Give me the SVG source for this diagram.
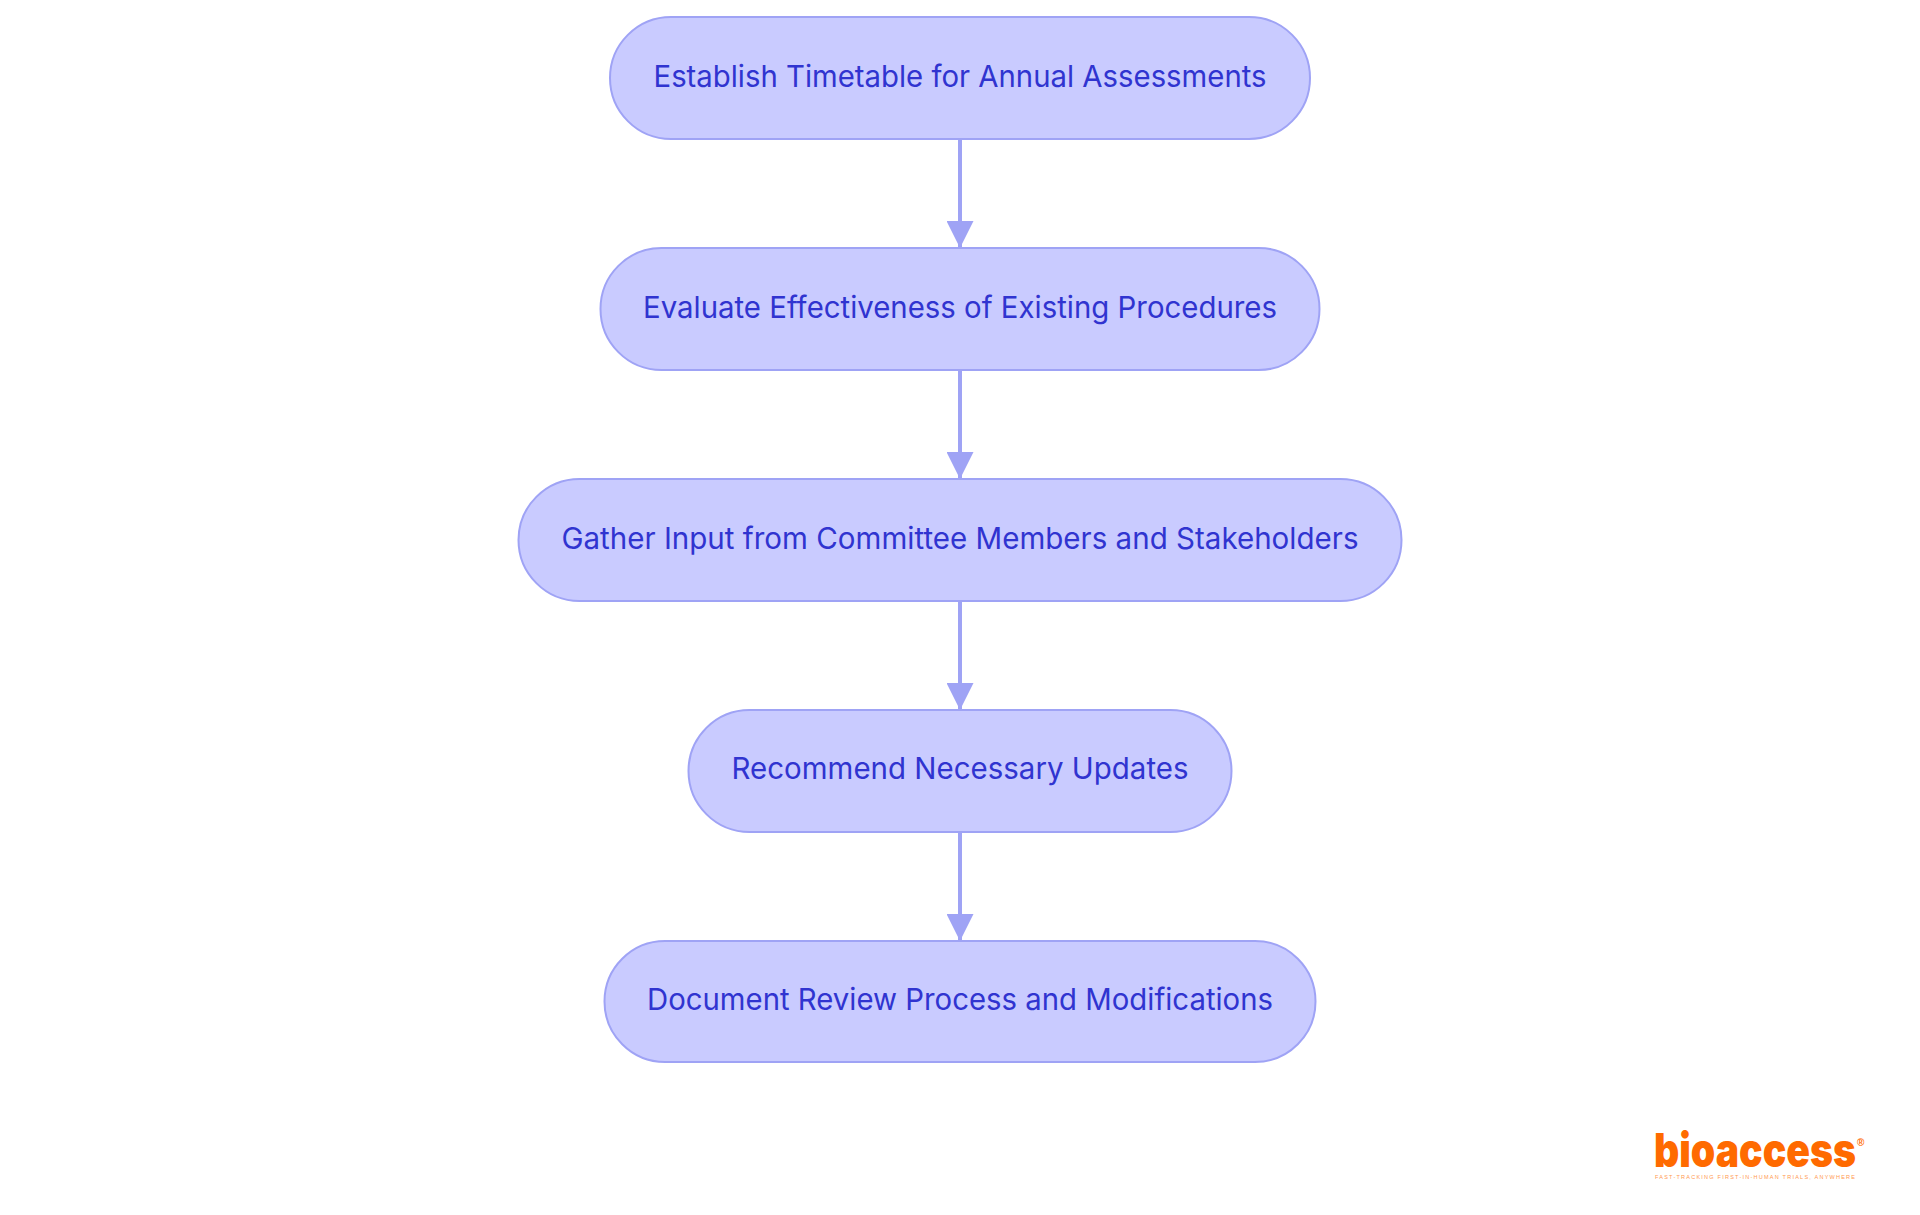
<svg xmlns="http://www.w3.org/2000/svg" width="1920" height="1215" viewBox="0 0 1920 1215">
<style>
.n{fill:#c9cbff;stroke:#9fa3f5;stroke-width:2}
.t{font-family:Inter,"Noto Sans",sans-serif;font-size:30px;font-weight:400;fill:#3034d0;text-anchor:middle}
.c{fill:none;stroke:#9fa3f5;stroke-width:4}
.l1{font-family:Inter,"Liberation Sans",sans-serif;font-weight:900;font-size:47px;fill:#ff6a00}
.l2{font-family:"Liberation Sans",sans-serif;font-size:5.500px;fill:#ff9a50}
.l3{font-family:"Liberation Sans",sans-serif;font-weight:700;font-size:10px;fill:#ff6a00}
</style>
<defs><marker id="a" markerUnits="userSpaceOnUse" markerWidth="27" markerHeight="27" refX="27" refY="13.500" orient="auto"><path d="M0 0L27 13.500L0 27Z" fill="#9fa3f5"/></marker></defs>
<rect width="1920" height="1215" fill="#fff"/>
<g id="connectors">
<path class="c" d="M960 139V248" marker-end="url(#a)"/>
<path class="c" d="M960 370V479" marker-end="url(#a)"/>
<path class="c" d="M960 601V710" marker-end="url(#a)"/>
<path class="c" d="M960 832V941" marker-end="url(#a)"/>
</g>
<g id="node1"><rect class="n" x="610" y="17" width="700" height="122" rx="61"/><text class="t" x="960" y="87" textLength="613" lengthAdjust="spacingAndGlyphs">Establish Timetable for Annual Assessments</text></g>
<g id="node2"><rect class="n" x="600.500" y="248" width="719" height="122" rx="61"/><text class="t" x="960" y="318" textLength="634" lengthAdjust="spacingAndGlyphs">Evaluate Effectiveness of Existing Procedures</text></g>
<g id="node3"><rect class="n" x="518.500" y="479" width="883" height="122" rx="61"/><text class="t" x="960" y="549" textLength="797" lengthAdjust="spacingAndGlyphs">Gather Input from Committee Members and Stakeholders</text></g>
<g id="node4"><rect class="n" x="688.500" y="710" width="543" height="122" rx="61"/><text class="t" x="960" y="779" textLength="457" lengthAdjust="spacingAndGlyphs">Recommend Necessary Updates</text></g>
<g id="node5"><rect class="n" x="604.500" y="941" width="711" height="121" rx="60.500"/><text class="t" x="960" y="1010" textLength="626" lengthAdjust="spacingAndGlyphs">Document Review Process and Modifications</text></g>
<g id="logo">
<text class="l1" x="1654" y="1167" textLength="202" lengthAdjust="spacingAndGlyphs">bioaccess</text>
<text class="l3" x="1857" y="1146">®</text>
<text class="l2" x="1655" y="1179" textLength="200" lengthAdjust="spacing">FAST-TRACKING FIRST-IN-HUMAN TRIALS, ANYWHERE</text>
</g>
</svg>
